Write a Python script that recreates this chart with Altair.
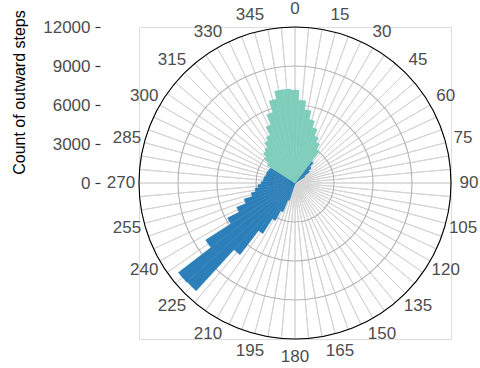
import altair as alt
import pandas as pd

# Histogram bins are 5 degrees wide, centred on the listed compass bearing.
teal_dirs = [305, 310, 315, 320, 325, 330, 335, 340, 345, 350, 355,
             0, 5, 10, 15, 20, 25, 30, 35]
teal_counts = [2540, 2920, 3310, 3460, 3850, 4150, 4850, 5690, 6610, 7230, 7230,
               7150, 6380, 5690, 5000, 4460, 3920, 3540, 3080]

blue_dirs = [40, 45, 50, 55,
             200, 205, 210, 215, 220, 225, 230, 235, 240, 245, 250,
             255, 260, 265, 270, 275, 280, 285, 290, 295, 300]
blue_counts = [2100, 1700, 1400, 900,
               1400, 2400, 3250, 4600, 6950, 11250, 11300, 8150, 5850, 4850, 4100,
               3450, 3100, 2850, 2600, 2450, 2400, 2300, 2300, 2250, 2200]

TEAL = "#7fcdbb"
BLUE = "#2c7fb8"

BIN = 5
R_MAX = 12000
ring_values = [3000, 6000, 9000]
y_ticks = [0, 3000, 6000, 9000, 12000]
angle_labels = list(range(0, 360, 15))
spoke_angles = list(range(0, 360, 5))

FONT = "Liberation Sans"
PANEL = 312  # diameter of the polar panel
FULL_TURN = 6.2832  # a hair over 2*pi so rings close without a radial seam

bars = pd.DataFrame(
    [{"dir": d, "n": n, "group": "b"} for d, n in zip(blue_dirs, blue_counts)]
    + [{"dir": d, "n": n, "group": "a"} for d, n in zip(teal_dirs, teal_counts)]
)
bars["start"] = bars["dir"] - BIN / 2
bars["end"] = bars["dir"] + BIN / 2

spokes = pd.DataFrame({"start": spoke_angles})
spokes["end"] = spokes["start"] + BIN
spokes["r"] = R_MAX

rings = pd.DataFrame({"r": ring_values})
outer = pd.DataFrame({"r": [R_MAX]})
labels = pd.DataFrame({"ang": angle_labels, "txt": [str(a) for a in angle_labels]})
yaxis = pd.DataFrame({"v": y_ticks})

theta_scale = alt.Scale(domain=[0, 360], range=[0, 6.283185307179586])
r_scale = alt.Scale(type="linear", domain=[0, R_MAX], range=[0, PANEL / 2], zero=True)

spoke_layer = alt.Chart(spokes).mark_arc(
    filled=False, stroke="#d4d4d4", strokeWidth=1
).encode(
    theta=alt.Theta("start:Q", scale=theta_scale, stack=None),
    theta2="end:Q",
    radius=alt.Radius("r:Q", scale=r_scale, stack=None),
)

ring_layer = alt.Chart(rings).mark_arc(
    filled=False, stroke="#b3b3b3", strokeWidth=1.1, theta=0, theta2=FULL_TURN
).encode(radius=alt.Radius("r:Q", scale=r_scale, stack=None))

bar_layer = alt.Chart(bars).mark_arc(strokeWidth=0.5).encode(
    theta=alt.Theta("start:Q", scale=theta_scale, stack=None),
    theta2="end:Q",
    radius=alt.Radius("n:Q", scale=r_scale, stack=None),
    fill=alt.Fill("group:N", scale=alt.Scale(domain=["b", "a"], range=[BLUE, TEAL]), legend=None),
    stroke=alt.Stroke("group:N", scale=alt.Scale(domain=["b", "a"], range=[BLUE, TEAL]), legend=None),
    order=alt.Order("group:N", sort="descending"),
)

outer_layer = alt.Chart(outer).mark_arc(
    filled=False, stroke="#000000", strokeWidth=1.1, theta=0, theta2=FULL_TURN
).encode(radius=alt.Radius("r:Q", scale=r_scale, stack=None))

label_layer = alt.Chart(labels).mark_text(
    radius=174, font=FONT, fontSize=17, color="#4d4d4d", align="center", baseline="middle"
).encode(
    theta=alt.Theta("ang:Q", scale=theta_scale, stack=None),
    text="txt:N",
)

axis_layer = alt.Chart(yaxis).mark_point(opacity=0).encode(
    y=alt.Y(
        "v:Q",
        scale=alt.Scale(domain=[0, R_MAX], range=[PANEL / 2, 0]),
        axis=alt.Axis(
            values=y_ticks,
            format="d",
            domain=False,
            grid=False,
            ticks=True,
            tickSize=5,
            tickWidth=1.2,
            tickColor="#333333",
            labelPadding=5,
            labelFont=FONT,
            labelFontSize=17,
            labelColor="#4d4d4d",
            offset=39,
            title="Count of outward steps",
            titleFont=FONT,
            titleFontSize=16,
            titleFontWeight="normal",
            titleColor="#000000",
            titleAngle=270,
            titleAlign="center",
            titleBaseline="middle",
            titleX=-81,
            titleY=65,
        ),
    ),
)

chart = alt.layer(
    spoke_layer, ring_layer, bar_layer, outer_layer, label_layer, axis_layer
).properties(
    width=PANEL,
    height=PANEL,
    autosize=alt.AutoSizeParams(type="none"),
    padding={"left": 139, "top": 27, "right": 29, "bottom": 29},
).configure_view(stroke=None).configure(background="white")

chart.save("out.html", embed_options={"renderer": "svg", "actions": False})
